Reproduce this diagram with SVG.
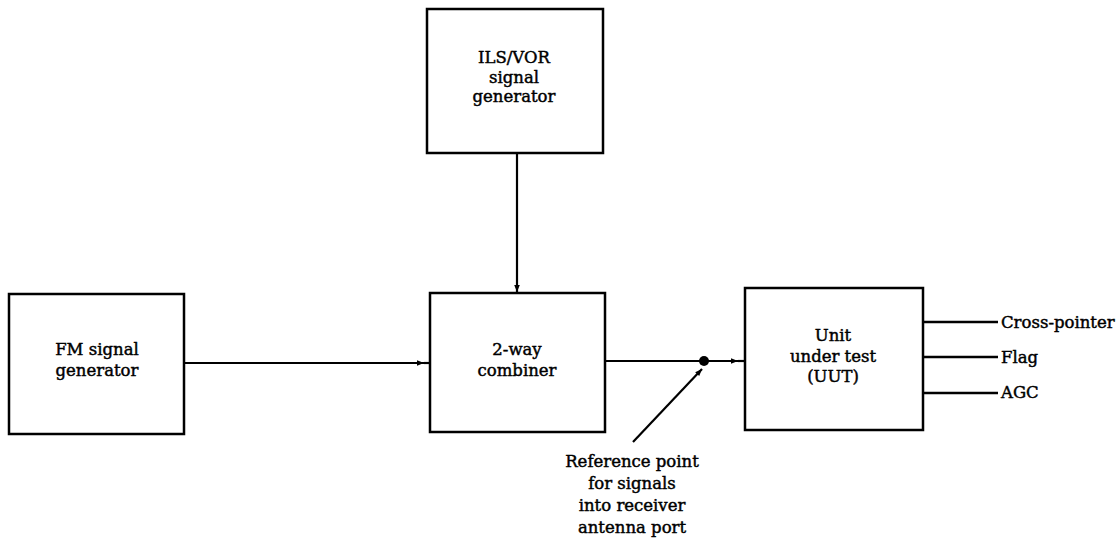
<svg xmlns="http://www.w3.org/2000/svg" width="1120" height="538" viewBox="0 0 1120 538">
<defs>
<style>
.box{fill:#fff;stroke:#000;stroke-width:2.5}
.ln{fill:none;stroke:#000;stroke-width:2.2}
.ol{fill:none;stroke:#000;stroke-width:2.5}
text{font-family:"DejaVu Serif","Liberation Serif",serif;font-size:16.5px;fill:#000;stroke:#000;stroke-width:0.45}
.c{text-anchor:middle}
</style>
<marker id="ah" viewBox="0 0 10 10" refX="10" refY="5" markerWidth="10" markerHeight="7" markerUnits="userSpaceOnUse" orient="auto">
<path d="M0,1 L10,5 L0,9 Z" fill="#000"/>
</marker>
</defs>
<rect width="1120" height="538" fill="#fff"/>
<g id="ils">
<rect class="box" x="427" y="9" width="176" height="144"/>
<text class="c" x="514" y="63">ILS/VOR</text>
<text class="c" x="514" y="83">signal</text>
<text class="c" x="514" y="102">generator</text>
</g>
<g id="fm">
<rect class="box" x="9" y="294" width="175" height="140"/>
<text class="c" x="97" y="355">FM signal</text>
<text class="c" x="97" y="376">generator</text>
</g>
<g id="combiner">
<rect class="box" x="430" y="293" width="175" height="139"/>
<text class="c" x="517" y="355">2-way</text>
<text class="c" x="517" y="376">combiner</text>
</g>
<g id="uut">
<rect class="box" x="745" y="288" width="178" height="142"/>
<text class="c" x="833" y="341">Unit</text>
<text class="c" x="833" y="362">under test</text>
<text class="c" x="833" y="382">(UUT)</text>
</g>
<g id="outputs">
<line class="ol" x1="923" y1="322" x2="998" y2="322"/>
<line class="ol" x1="923" y1="357" x2="998" y2="357"/>
<line class="ol" x1="923" y1="393" x2="998" y2="393"/>
<text x="1001" y="328">Cross-pointer</text>
<text x="1001" y="363">Flag</text>
<text x="1001" y="398">AGC</text>
</g>
<g id="refnote">
<text class="c" x="632" y="467">Reference point</text>
<text class="c" x="632" y="489">for signals</text>
<text class="c" x="632" y="511">into receiver</text>
<text class="c" x="632" y="533">antenna port</text>
</g>
<g id="connectors">
<line class="ln" x1="517" y1="153" x2="517" y2="292" stroke-width="2.5" marker-end="url(#ah)"/>
<line class="ln" x1="184" y1="363" x2="424" y2="363" marker-end="url(#ah)"/>
<line class="ln" x1="424" y1="363" x2="430" y2="363"/>
<line class="ln" x1="605" y1="361" x2="738" y2="361" marker-end="url(#ah)"/>
<line class="ln" x1="738" y1="361" x2="745" y2="361"/>
<circle cx="704" cy="361" r="5" fill="#000"/>
<line class="ln" x1="633" y1="442" x2="702" y2="369" marker-end="url(#ah)"/>
</g>
</svg>
